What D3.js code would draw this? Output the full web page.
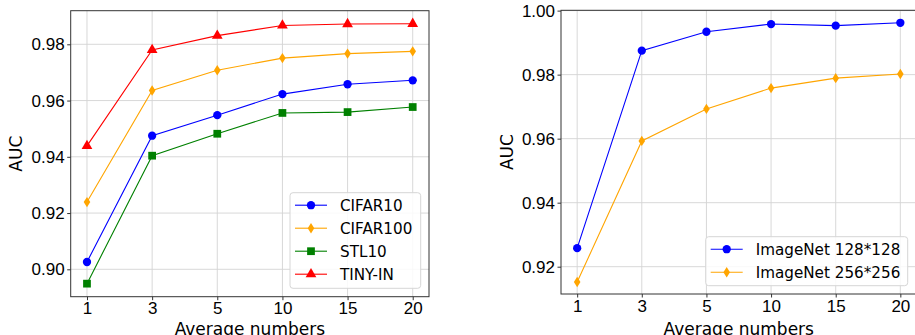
<!DOCTYPE html>
<html>
<head>
<meta charset="utf-8">
<script src="https://cdn.jsdelivr.net/npm/d3@7"></script>
<style>
  body { margin: 0; background: #fff; }
  svg { display: block; font-family: "DejaVu Sans", sans-serif; }
  .grid line { stroke: #d4d4d4; stroke-width: 0.9; }
  .axis text { font-size: 17px; fill: #000; }
  .axis path, .axis line { stroke: #333; }
</style>
</head>
<body>
<svg id="chart" width="915" height="335"></svg>
<script>
// x categories shared by both panels
const averageNumbers = ["1", "3", "5", "10", "15", "20"];

// left panel series
const cifar10  = [0.9026, 0.9475, 0.9548, 0.9623, 0.9658, 0.9672];
const cifar100 = [0.9239, 0.9636, 0.9708, 0.9751, 0.9767, 0.9775];
const stl10    = [0.8949, 0.9404, 0.9482, 0.9556, 0.9559, 0.9577];
const tinyIn   = [0.9439, 0.9780, 0.9831, 0.9867, 0.9872, 0.9873];
const leftTicks = [0.90, 0.92, 0.94, 0.96, 0.98];

// right panel series
const imagenet128 = [0.9258, 0.9875, 0.9934, 0.9958, 0.9953, 0.9962];
const imagenet256 = [0.9152, 0.9593, 0.9693, 0.9758, 0.9789, 0.9802];
const rightTicks = [0.92, 0.94, 0.96, 0.98, 1.00];

const svg = d3.select("#chart");

const markers = {
  circle: d3.symbol().type(d3.symbolCircle).size(54)(),
  square: d3.symbol().type(d3.symbolSquare).size(60)(),
  triangle: d3.symbol().type(d3.symbolTriangle).size(50)(),
  // thin diamond, like matplotlib's "d"
  diamond: "M0,-5.2L3.3,0L0,5.2L-3.3,0Z"
};

function drawMarker(g, kind, color) {
  g.append("path").attr("d", markers[kind]).attr("fill", color);
}

function panel(opts) {
  const { left, right, top, bottom, yDomain, yTicks, series, legend } = opts;

  const x = d3.scalePoint().domain(averageNumbers).range([left, right]).padding(0.25);
  const y = d3.scaleLinear().domain(yDomain).range([bottom, top]);

  const g = svg.append("g");

  // grid
  const grid = g.append("g").attr("class", "grid");
  grid.selectAll(".gx").data(averageNumbers).enter().append("line")
    .attr("x1", d => x(d)).attr("x2", d => x(d)).attr("y1", top).attr("y2", bottom);
  grid.selectAll(".gy").data(yTicks).enter().append("line")
    .attr("x1", left).attr("x2", right).attr("y1", d => y(d)).attr("y2", d => y(d));

  // axes
  g.append("g").attr("class", "axis")
    .attr("transform", "translate(0," + bottom + ")")
    .call(d3.axisBottom(x).tickSize(3.5).tickPadding(2))
    .call(a => a.select(".domain").remove());
  g.append("g").attr("class", "axis")
    .attr("transform", "translate(" + left + ",0)")
    .call(d3.axisLeft(y).tickValues(yTicks).tickFormat(d3.format(".2f")).tickSize(3.5).tickPadding(2.5))
    .call(a => a.select(".domain").remove());

  // frame
  g.append("rect")
    .attr("x", left).attr("y", top)
    .attr("width", right - left).attr("height", bottom - top)
    .attr("fill", "none").attr("stroke", "#333").attr("stroke-width", 1);

  // axis labels
  g.append("text")
    .attr("x", (left + right) / 2).attr("y", 334.5)
    .attr("text-anchor", "middle").attr("font-size", 17)
    .text("Average numbers");
  g.append("text")
    .attr("transform", "translate(" + (opts.yLabelX) + "," + ((top + bottom) / 2) + ") rotate(-90)")
    .attr("text-anchor", "middle").attr("font-size", 17)
    .text("AUC");

  // lines and markers
  const line = d3.line().x((d, i) => x(averageNumbers[i])).y(d => y(d));
  series.forEach(s => {
    g.append("path").datum(s.values)
      .attr("d", line).attr("fill", "none")
      .attr("stroke", s.color).attr("stroke-width", 1.1);
    s.values.forEach((v, i) => {
      const m = g.append("g").attr("transform", "translate(" + x(averageNumbers[i]) + "," + y(v) + ")");
      drawMarker(m, s.marker, s.color);
    });
  });

  // legend
  const lg = g.append("g");
  lg.append("rect")
    .attr("x", legend.x).attr("y", legend.y)
    .attr("width", legend.w).attr("height", legend.h)
    .attr("rx", 3)
    .attr("fill", "#fff").attr("fill-opacity", 0.85)
    .attr("stroke", "#d6d6d6");
  series.forEach((s, i) => {
    const cy = legend.y + 12.5 + i * 23;
    const lx = legend.x + 5;
    lg.append("line")
      .attr("x1", lx).attr("x2", lx + 32).attr("y1", cy).attr("y2", cy)
      .attr("stroke", s.color).attr("stroke-width", 1.1);
    const m = lg.append("g").attr("transform", "translate(" + (lx + 16) + "," + cy + ")");
    drawMarker(m, s.marker, s.color);
    lg.append("text")
      .attr("x", lx + 45).attr("y", cy)
      .attr("dy", "0.36em").attr("font-size", 15.2)
      .text(s.name);
  });
}

panel({
  left: 70.7, right: 429, top: 10.7, bottom: 296.7,
  yDomain: [0.89026, 0.99195],
  yTicks: leftTicks,
  yLabelX: 22,
  series: [
    { name: "CIFAR10", values: cifar10, color: "blue", marker: "circle" },
    { name: "CIFAR100", values: cifar100, color: "orange", marker: "diamond" },
    { name: "STL10", values: stl10, color: "green", marker: "square" },
    { name: "TINY-IN", values: tinyIn, color: "red", marker: "triangle" }
  ],
  legend: { x: 290, y: 192.7, w: 130.7, h: 95.6 }
});

panel({
  left: 561, right: 916.5, top: 10.3, bottom: 294,
  yDomain: [0.91147, 1.0001],
  yTicks: rightTicks,
  yLabelX: 512.5,
  series: [
    { name: "ImageNet 128*128", values: imagenet128, color: "blue", marker: "circle" },
    { name: "ImageNet 256*256", values: imagenet256, color: "orange", marker: "diamond" }
  ],
  legend: { x: 705.7, y: 236.7, w: 202, h: 49 }
});
</script>
</body>
</html>
